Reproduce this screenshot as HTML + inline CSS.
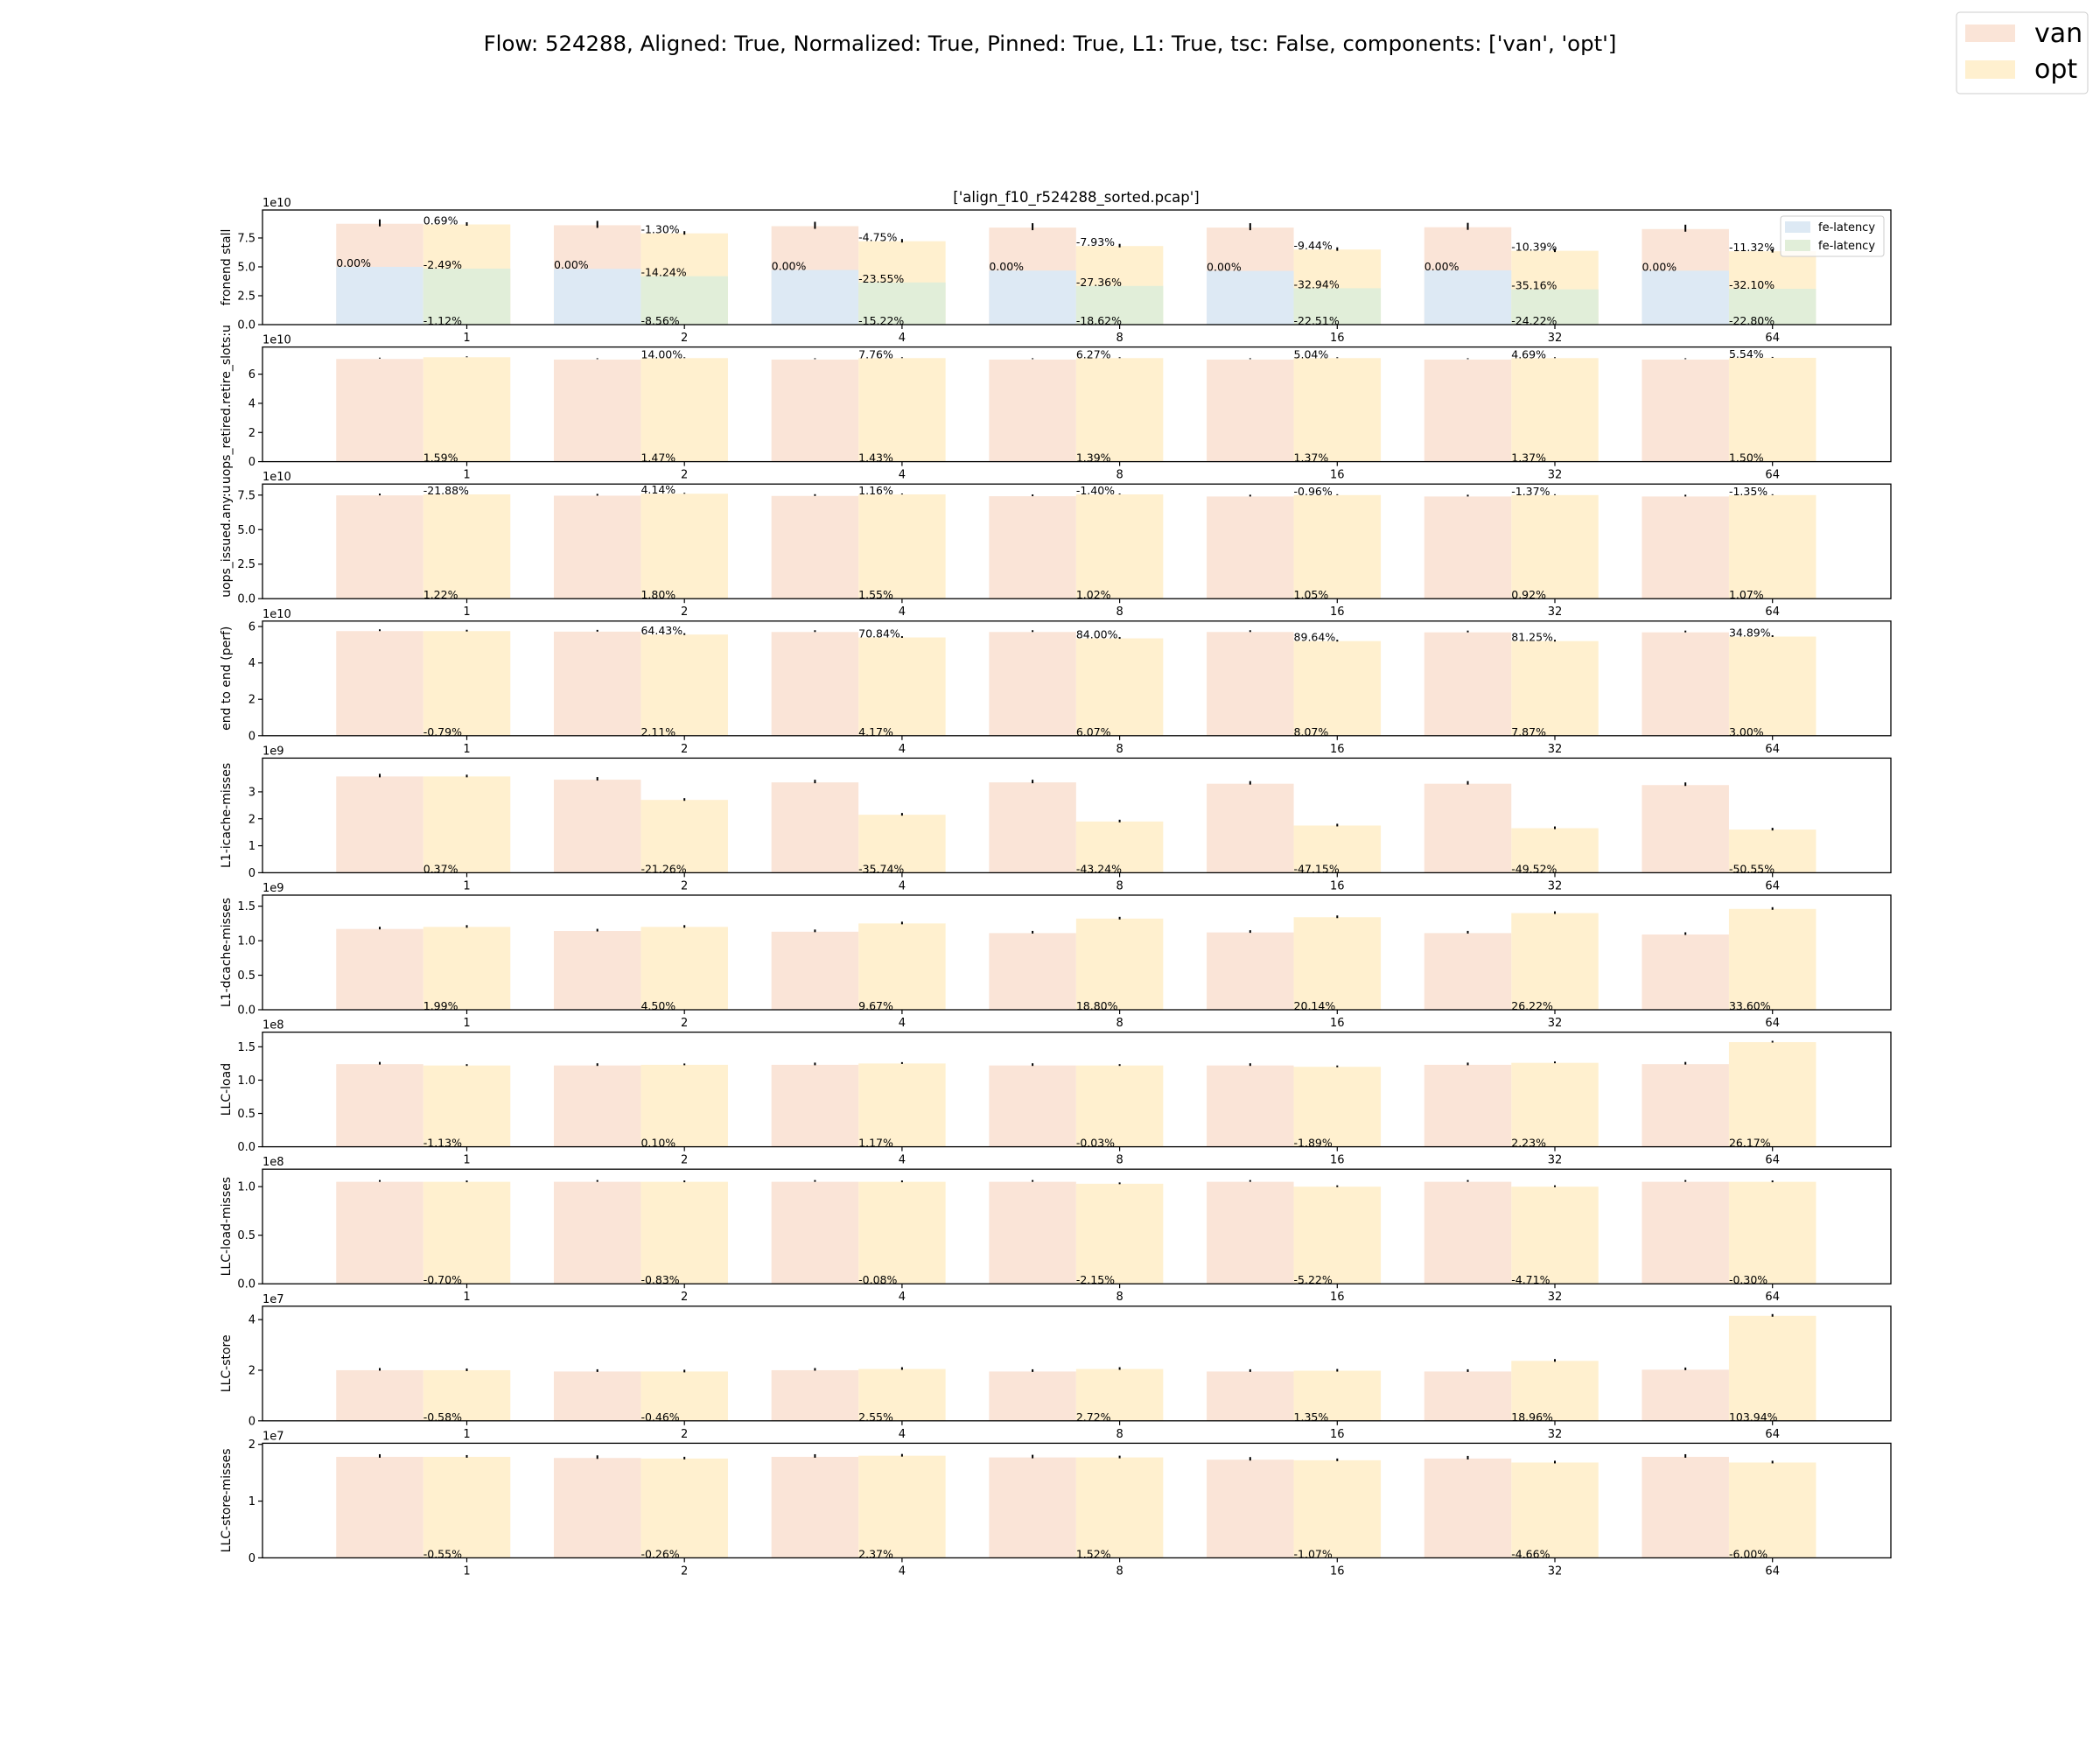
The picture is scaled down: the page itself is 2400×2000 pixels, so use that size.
<!DOCTYPE html>
<html><head><meta charset="utf-8">
<style>
body{margin:0;background:#fff;}
svg{display:block;font-family:"DejaVu Sans","Liberation Sans",sans-serif;}
.panel text{font-size:12.5px;fill:#000;}
.panel .yl{font-size:14px;}
.panel .ex{font-size:13px;}
.panel .yt,.panel .xt{font-size:13px;}
</style></head><body>
<svg id="s" width="2400" height="2000" xmlns="http://www.w3.org/2000/svg">
<rect width="2400" height="2000" fill="#fff"/>
<text x="1200" y="58" font-size="24.4" text-anchor="middle">Flow: 524288, Aligned: True, Normalized: True, Pinned: True, L1: True, tsc: False, components: ['van', 'opt']</text>
<text x="1230" y="231" font-size="16.5" text-anchor="middle">['align_f10_r524288_sorted.pcap']</text>
<rect x="2236" y="14" width="150" height="93" rx="4" fill="#fff" stroke="#ccc"/>
<rect x="2246" y="28" width="57" height="20" fill="#fae4d7"/>
<rect x="2246" y="69" width="57" height="21" fill="#fff0cf"/>
<text x="2325" y="48" font-size="30">van</text>
<text x="2325" y="89" font-size="30">opt</text>
<g id="bars"></g>

<g class="panel"><text class="yl">fronend stall</text><text class="ex">1e10</text>
<text class="yt">0.0</text><text class="yt">2.5</text><text class="yt">5.0</text><text class="yt">7.5</text>
<text class="xt">1</text><text class="xt">2</text><text class="xt">4</text><text class="xt">8</text><text class="xt">16</text><text class="xt">32</text><text class="xt">64</text>
<text class="lt">0.69%</text><text class="lt">-1.30%</text><text class="lt">-4.75%</text><text class="lt">-7.93%</text><text class="lt">-9.44%</text><text class="lt">-10.39%</text><text class="lt">-11.32%</text>
<text class="lm">-2.49%</text><text class="lm">-14.24%</text><text class="lm">-23.55%</text><text class="lm">-27.36%</text><text class="lm">-32.94%</text><text class="lm">-35.16%</text><text class="lm">-32.10%</text>
<text class="lv">0.00%</text><text class="lv">0.00%</text><text class="lv">0.00%</text><text class="lv">0.00%</text><text class="lv">0.00%</text><text class="lv">0.00%</text><text class="lv">0.00%</text>
<text class="lb">-1.12%</text><text class="lb">-8.56%</text><text class="lb">-15.22%</text><text class="lb">-18.62%</text><text class="lb">-22.51%</text><text class="lb">-24.22%</text><text class="lb">-22.80%</text>
</g>

<g class="panel"><text class="yl">uops_retired.retire_slots:u</text><text class="ex">1e10</text>
<text class="yt">0</text><text class="yt">2</text><text class="yt">4</text><text class="yt">6</text>
<text class="xt">1</text><text class="xt">2</text><text class="xt">4</text><text class="xt">8</text><text class="xt">16</text><text class="xt">32</text><text class="xt">64</text>
<text class="lt"></text><text class="lt">14.00%</text><text class="lt">7.76%</text><text class="lt">6.27%</text><text class="lt">5.04%</text><text class="lt">4.69%</text><text class="lt">5.54%</text>
<text class="lb">1.59%</text><text class="lb">1.47%</text><text class="lb">1.43%</text><text class="lb">1.39%</text><text class="lb">1.37%</text><text class="lb">1.37%</text><text class="lb">1.50%</text>
</g>

<g class="panel"><text class="yl">uops_issued.any:u</text><text class="ex">1e10</text>
<text class="yt">0.0</text><text class="yt">2.5</text><text class="yt">5.0</text><text class="yt">7.5</text>
<text class="xt">1</text><text class="xt">2</text><text class="xt">4</text><text class="xt">8</text><text class="xt">16</text><text class="xt">32</text><text class="xt">64</text>
<text class="lt">-21.88%</text><text class="lt">4.14%</text><text class="lt">1.16%</text><text class="lt">-1.40%</text><text class="lt">-0.96%</text><text class="lt">-1.37%</text><text class="lt">-1.35%</text>
<text class="lb">1.22%</text><text class="lb">1.80%</text><text class="lb">1.55%</text><text class="lb">1.02%</text><text class="lb">1.05%</text><text class="lb">0.92%</text><text class="lb">1.07%</text>
</g>

<g class="panel"><text class="yl">end to end (perf)</text><text class="ex">1e10</text>
<text class="yt">0</text><text class="yt">2</text><text class="yt">4</text><text class="yt">6</text>
<text class="xt">1</text><text class="xt">2</text><text class="xt">4</text><text class="xt">8</text><text class="xt">16</text><text class="xt">32</text><text class="xt">64</text>
<text class="lt"></text><text class="lt">64.43%</text><text class="lt">70.84%</text><text class="lt">84.00%</text><text class="lt">89.64%</text><text class="lt">81.25%</text><text class="lt">34.89%</text>
<text class="lb">-0.79%</text><text class="lb">2.11%</text><text class="lb">4.17%</text><text class="lb">6.07%</text><text class="lb">8.07%</text><text class="lb">7.87%</text><text class="lb">3.00%</text>
</g>

<g class="panel"><text class="yl">L1-icache-misses</text><text class="ex">1e9</text>
<text class="yt">0</text><text class="yt">1</text><text class="yt">2</text><text class="yt">3</text>
<text class="xt">1</text><text class="xt">2</text><text class="xt">4</text><text class="xt">8</text><text class="xt">16</text><text class="xt">32</text><text class="xt">64</text>
<text class="lb">0.37%</text><text class="lb">-21.26%</text><text class="lb">-35.74%</text><text class="lb">-43.24%</text><text class="lb">-47.15%</text><text class="lb">-49.52%</text><text class="lb">-50.55%</text>
</g>

<g class="panel"><text class="yl">L1-dcache-misses</text><text class="ex">1e9</text>
<text class="yt">0.0</text><text class="yt">0.5</text><text class="yt">1.0</text><text class="yt">1.5</text>
<text class="xt">1</text><text class="xt">2</text><text class="xt">4</text><text class="xt">8</text><text class="xt">16</text><text class="xt">32</text><text class="xt">64</text>
<text class="lb">1.99%</text><text class="lb">4.50%</text><text class="lb">9.67%</text><text class="lb">18.80%</text><text class="lb">20.14%</text><text class="lb">26.22%</text><text class="lb">33.60%</text>
</g>

<g class="panel"><text class="yl">LLC-load</text><text class="ex">1e8</text>
<text class="yt">0.0</text><text class="yt">0.5</text><text class="yt">1.0</text><text class="yt">1.5</text>
<text class="xt">1</text><text class="xt">2</text><text class="xt">4</text><text class="xt">8</text><text class="xt">16</text><text class="xt">32</text><text class="xt">64</text>
<text class="lb">-1.13%</text><text class="lb">0.10%</text><text class="lb">1.17%</text><text class="lb">-0.03%</text><text class="lb">-1.89%</text><text class="lb">2.23%</text><text class="lb">26.17%</text>
</g>

<g class="panel"><text class="yl">LLC-load-misses</text><text class="ex">1e8</text>
<text class="yt">0.0</text><text class="yt">0.5</text><text class="yt">1.0</text>
<text class="xt">1</text><text class="xt">2</text><text class="xt">4</text><text class="xt">8</text><text class="xt">16</text><text class="xt">32</text><text class="xt">64</text>
<text class="lb">-0.70%</text><text class="lb">-0.83%</text><text class="lb">-0.08%</text><text class="lb">-2.15%</text><text class="lb">-5.22%</text><text class="lb">-4.71%</text><text class="lb">-0.30%</text>
</g>

<g class="panel"><text class="yl">LLC-store</text><text class="ex">1e7</text>
<text class="yt">0</text><text class="yt">2</text><text class="yt">4</text>
<text class="xt">1</text><text class="xt">2</text><text class="xt">4</text><text class="xt">8</text><text class="xt">16</text><text class="xt">32</text><text class="xt">64</text>
<text class="lb">-0.58%</text><text class="lb">-0.46%</text><text class="lb">2.55%</text><text class="lb">2.72%</text><text class="lb">1.35%</text><text class="lb">18.96%</text><text class="lb">103.94%</text>
</g>

<g class="panel"><text class="yl">LLC-store-misses</text><text class="ex">1e7</text>
<text class="yt">0</text><text class="yt">1</text><text class="yt">2</text>
<text class="xt">1</text><text class="xt">2</text><text class="xt">4</text><text class="xt">8</text><text class="xt">16</text><text class="xt">32</text><text class="xt">64</text>
<text class="lb">-0.55%</text><text class="lb">-0.26%</text><text class="lb">2.37%</text><text class="lb">1.52%</text><text class="lb">-1.07%</text><text class="lb">-4.66%</text><text class="lb">-6.00%</text>
</g>

<g id="inleg">
<rect x="2035" y="247" width="118" height="46" rx="3" fill="#fff" fill-opacity="0.8" stroke="#ccc"/>
<rect x="2040" y="253" width="29" height="13" fill="#dde9f4"/>
<rect x="2040" y="274" width="29" height="13" fill="#e1eed9"/>
<text x="2078" y="264" font-size="13">fe-latency</text>
<text x="2078" y="285" font-size="13">fe-latency</text>
</g>
</svg>
<script>
var D=[
{ym:9.92,van:[8.73,8.6,8.52,8.4,8.4,8.43,8.27],opt:[8.67,7.9,7.22,6.8,6.5,6.39,6.35],blue:[5.0,4.83,4.73,4.68,4.65,4.7,4.67],green:[4.85,4.19,3.65,3.35,3.15,3.05,3.1],e:[4,2]},
{ym:7.86,van:[7.04,7.0,7.0,7.0,7.0,7.0,7.0],opt:[7.16,7.1,7.1,7.1,7.1,7.1,7.12],e:[0.5,0.5]},
{ym:8.3,van:[7.48,7.46,7.44,7.42,7.4,7.4,7.4],opt:[7.55,7.6,7.55,7.55,7.5,7.5,7.5],e:[1,0.5]},
{ym:6.3,van:[5.75,5.72,5.7,5.7,5.7,5.68,5.68],opt:[5.75,5.56,5.4,5.35,5.2,5.2,5.45],e:[1,1]},
{ym:4.25,van:[3.57,3.45,3.35,3.35,3.3,3.3,3.25],opt:[3.57,2.7,2.15,1.9,1.75,1.65,1.6],e:[2,1.5]},
{ym:1.66,van:[1.17,1.14,1.13,1.11,1.12,1.11,1.09],opt:[1.2,1.2,1.25,1.32,1.34,1.4,1.46],e:[1.5,1.5]},
{ym:1.72,van:[1.24,1.22,1.23,1.22,1.22,1.23,1.24],opt:[1.22,1.23,1.25,1.22,1.2,1.26,1.57],e:[1.5,1]},
{ym:1.18,van:[1.05,1.05,1.05,1.05,1.05,1.05,1.05],opt:[1.05,1.05,1.05,1.03,1.0,1.0,1.05],e:[1,1]},
{ym:4.53,van:[2.0,1.95,2.0,1.95,1.95,1.95,2.02],opt:[2.0,1.95,2.05,2.05,1.98,2.37,4.15],e:[1.5,1.5]},
{ym:2.02,van:[1.78,1.76,1.78,1.77,1.73,1.75,1.78],opt:[1.78,1.75,1.8,1.77,1.72,1.68,1.68],e:[2,1.5]}
];
var NS="http://www.w3.org/2000/svg",L=300,R=2161,H=131;
function el(t,a,p){var e=document.createElementNS(NS,t);for(var k in a)e.setAttribute(k,a[k]);(p||document.getElementById('bars')).appendChild(e);return e;}
var T=[],W=99.5;for(var i=0;i<7;i++)T.push(533.5+248.7*i);
var ps=document.querySelectorAll('.panel');
ps.forEach(function(g,pi){
 var d=D[pi],top=240+156.6*pi,bot=top+H;
 function Y(v){return bot-v/d.ym*H;}
 for(var i=0;i<7;i++){
  var t=T[i];
  el('rect',{x:t-1.5*W,y:Y(d.van[i]),width:W,height:bot-Y(d.van[i]),fill:'#fae4d7'});
  el('rect',{x:t-0.5*W,y:Y(d.opt[i]),width:W,height:bot-Y(d.opt[i]),fill:'#fff0cf'});
  if(d.blue){
   el('rect',{x:t-1.5*W,y:Y(d.blue[i]),width:W,height:bot-Y(d.blue[i]),fill:'#dde9f4'});
   el('rect',{x:t-0.5*W,y:Y(d.green[i]),width:W,height:bot-Y(d.green[i]),fill:'#e1eed9'});
  }
  var e=d.e;
  el('line',{x1:t-W,x2:t-W,y1:Y(d.van[i])-e[0]-1,y2:Y(d.van[i])+e[0]-1,stroke:'#000','stroke-width':2});
  el('line',{x1:t,x2:t,y1:Y(d.opt[i])-e[1]-0.5,y2:Y(d.opt[i])+e[1]-0.5,stroke:'#000','stroke-width':2});
 }
 el('rect',{x:L,y:top,width:R-L,height:H,fill:'none',stroke:'#000','stroke-width':1.3});
 var yl=g.querySelector('.yl');yl.setAttribute('transform','translate(263,'+(top+H/2)+') rotate(-90)');yl.setAttribute('text-anchor','middle');
 var ex=g.querySelector('.ex');ex.setAttribute('x',L);ex.setAttribute('y',top-4);
 g.querySelectorAll('.yt').forEach(function(tx){var v=parseFloat(tx.textContent),y=Y(v);tx.setAttribute('x',L-8);tx.setAttribute('y',y+4.5);tx.setAttribute('text-anchor','end');el('line',{x1:L-5,x2:L,y1:y,y2:y,stroke:'#000','stroke-width':1.2});});
 g.querySelectorAll('.xt').forEach(function(tx,i){tx.setAttribute('x',T[i]);tx.setAttribute('y',bot+19);tx.setAttribute('text-anchor','middle');el('line',{x1:T[i],x2:T[i],y1:bot,y2:bot+5,stroke:'#000','stroke-width':1.2});});
 g.querySelectorAll('.lt').forEach(function(tx,i){tx.setAttribute('x',T[i]-W/2);tx.setAttribute('y',Y(d.opt[i]));});
 g.querySelectorAll('.lm').forEach(function(tx,i){tx.setAttribute('x',T[i]-W/2);tx.setAttribute('y',Y(d.green[i]));});
 g.querySelectorAll('.lv').forEach(function(tx,i){tx.setAttribute('x',T[i]-1.5*W);tx.setAttribute('y',Y(d.blue[i]));});
 g.querySelectorAll('.lb').forEach(function(tx,i){tx.setAttribute('x',T[i]-W/2);tx.setAttribute('y',bot);});
});
</script>
</body></html>
